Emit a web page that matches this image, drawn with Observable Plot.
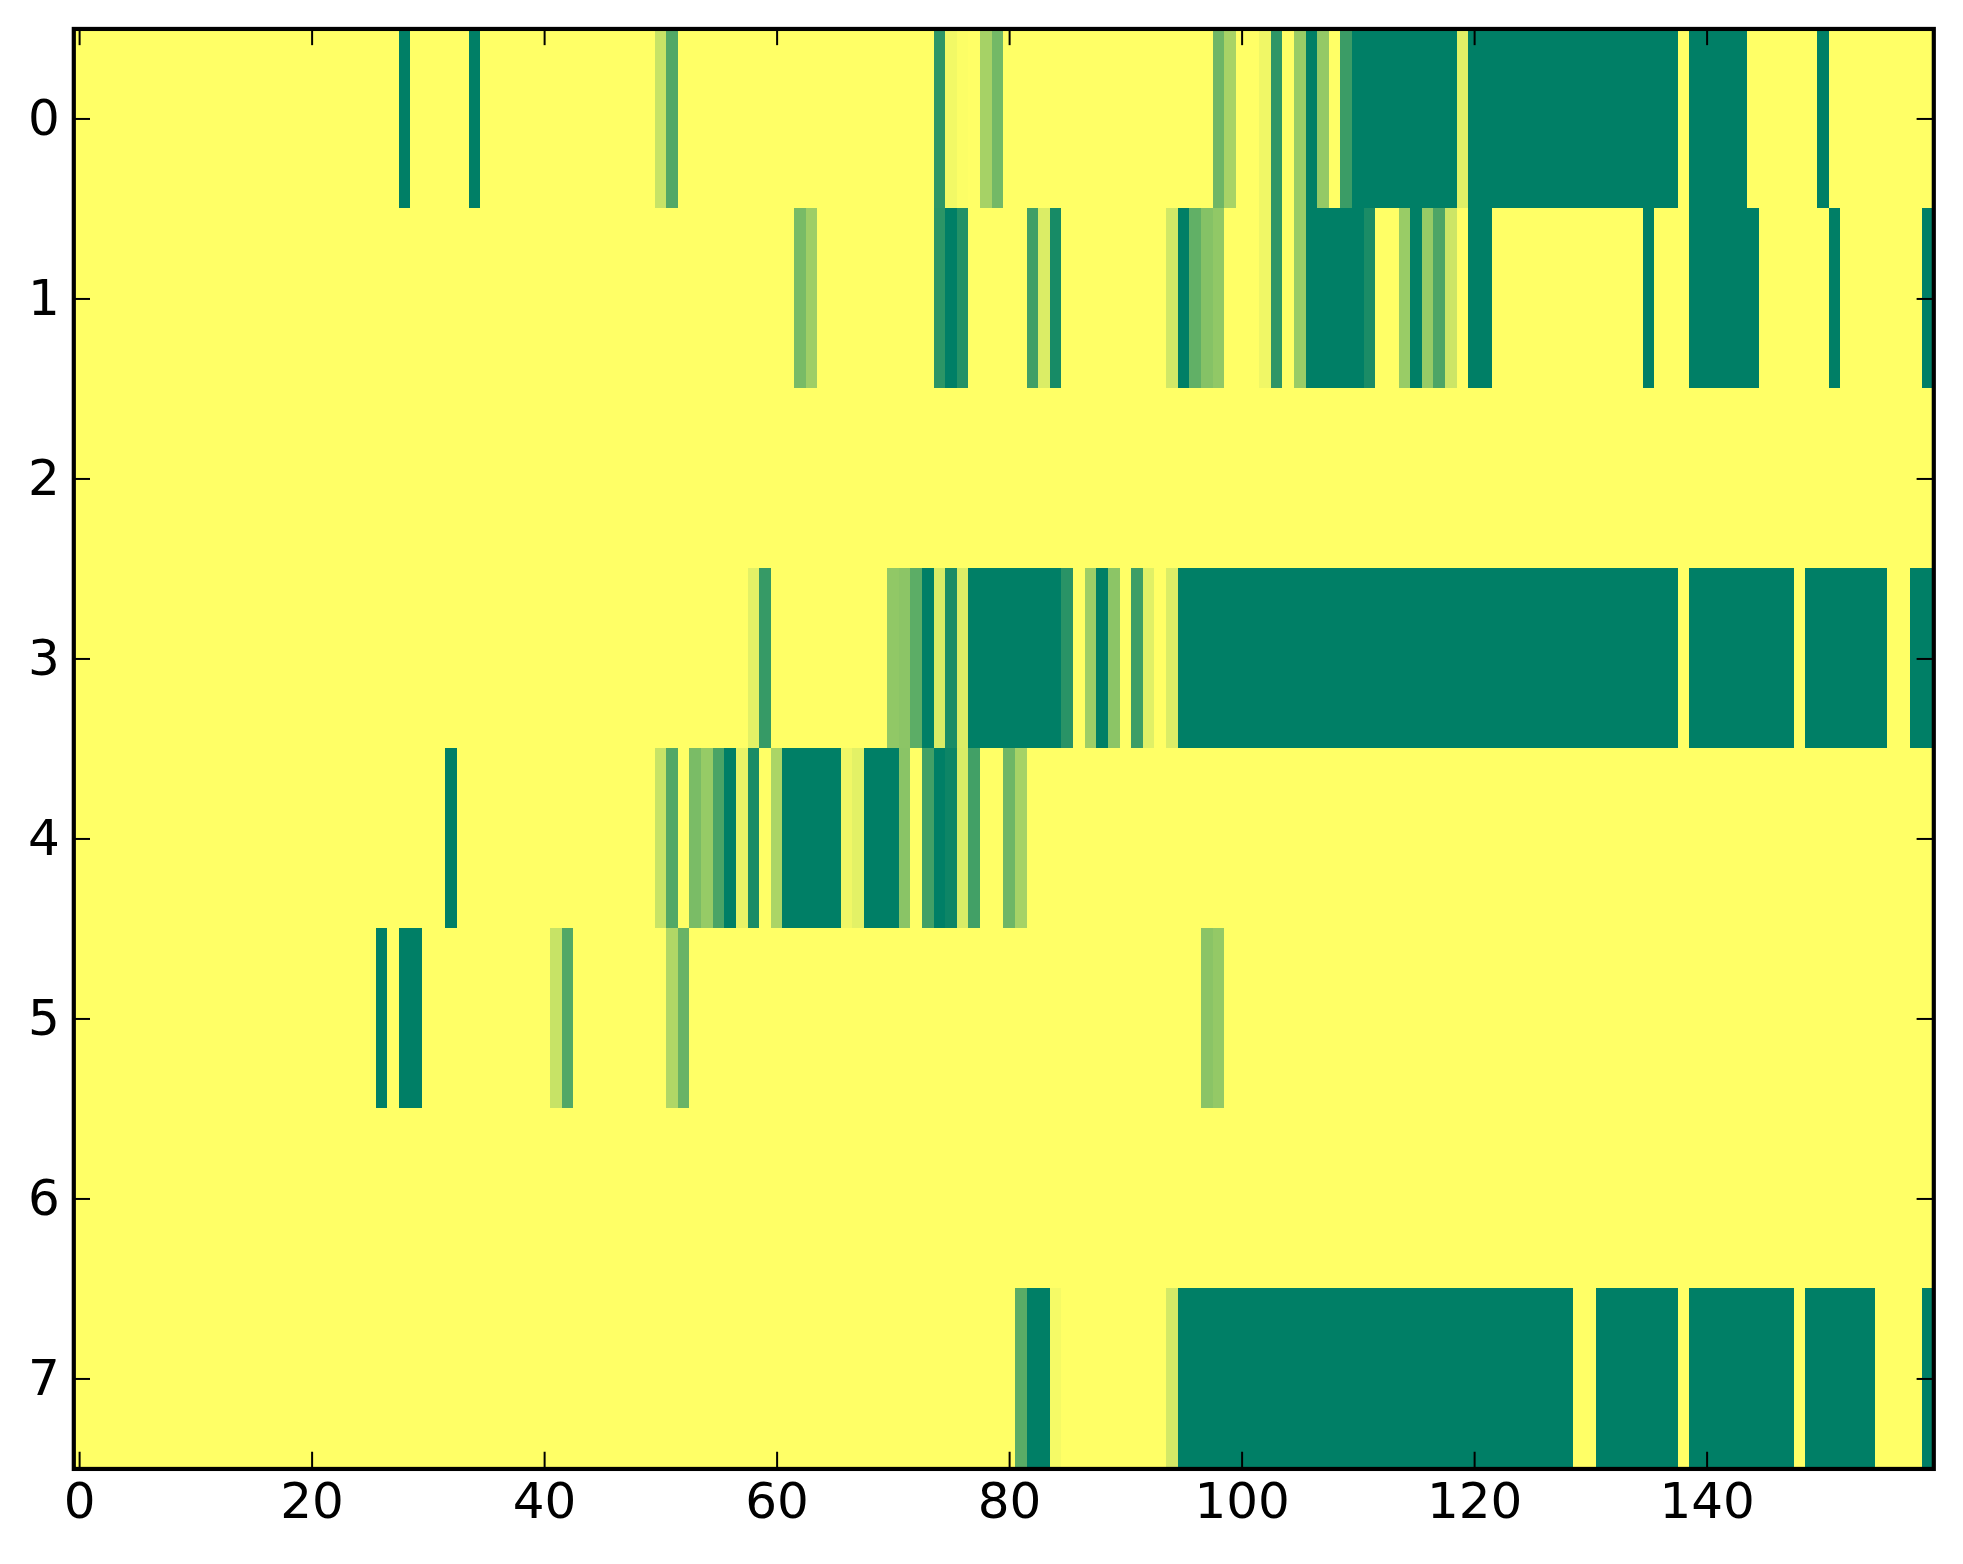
<!DOCTYPE html>
<html>
<head>
<meta charset="utf-8">
<script src="https://cdn.jsdelivr.net/npm/d3@7"></script>
<script src="https://cdn.jsdelivr.net/npm/@observablehq/plot@0.6"></script>
<style>
html,body{margin:0;padding:0;background:#fff}
svg{display:block;max-width:none}
</style>
</head>
<body>
<div id="chart"></div>
<script>
// Each row lists runs [firstColumn, lastColumn, value]; columns not listed are 1 (full yellow).
const row0 = [[28,28,0],[34,34,0],[50,50,.78],[51,51,.32],[74,74,.18],[75,75,.95],[76,76,.99],[78,78,.65],[79,79,.45],[98,98,.43],[99,99,.66],[102,102,.94],[103,103,.18],[105,105,.6],[106,106,0],[107,107,.58],[109,109,.23],[110,118,0],[119,119,.88],[120,137,0],[139,143,0],[150,150,0]];
const row1 = [[62,62,.47],[63,63,.62],[74,74,.17],[75,75,0],[76,76,.14],[82,82,.25],[83,83,.86],[84,84,.09],[94,94,.82],[95,95,0],[96,96,.38],[97,97,.52],[98,98,.57],[102,102,.94],[103,103,.18],[105,105,.6],[106,110,0],[111,111,.1],[114,114,.6],[115,115,0],[116,116,.59],[117,117,.3],[118,118,.8],[120,121,0],[135,135,0],[139,144,0],[151,151,0],[159,159,0]];
const row2 = [];
const row3 = [[58,58,.89],[59,59,.21],[70,70,.57],[71,71,.55],[72,72,.36],[73,73,0],[74,74,.85],[75,75,.1],[76,76,.86],[77,84,0],[85,85,.16],[87,87,.62],[88,88,0],[89,89,.55],[91,91,.24],[92,92,.88],[94,94,.86],[95,137,0],[139,147,0],[149,155,0],[158,159,0]];
const row4 = [[32,32,0],[50,50,.78],[51,51,.32],[53,53,.48],[54,54,.59],[55,55,.29],[56,56,0],[57,57,.91],[58,58,.1],[60,60,.67],[61,65,0],[66,66,.94],[67,67,.89],[68,70,0],[71,71,.54],[73,73,.26],[74,74,0],[75,75,.05],[76,76,.85],[77,77,.26],[80,80,.43],[81,81,.65]];
const row5 = [[26,26,0],[28,29,0],[41,41,.78],[42,42,.32],[51,51,.69],[52,52,.41],[97,97,.54],[98,98,.58]];
const row6 = [];
const row7 = [[81,81,.35],[82,83,0],[84,84,.96],[94,94,.83],[95,128,0],[131,137,0],[139,147,0],[149,154,0],[159,159,0]];
const rows = [row0,row1,row2,row3,row4,row5,row6,row7];
const columnCount = 160;
const xTicks = [0,20,40,60,80,100,120,140];
const yTicks = [0,1,2,3,4,5,6,7];

const cells = [];
rows.forEach((runs, r) => {
  const values = new Array(columnCount).fill(1);
  for (const [a, b, v] of runs) for (let c = a; c <= b; c++) values[c] = v;
  values.forEach((value, col) => cells.push({col, row: r, value}));
});

const W = 1963, H = 1564;
const mL = 73.3, mR = 29.7, mT = 28.45, mB = 95.55;
const tickLen = 16.7;
const uX = (W - mL - mR) / 160, uY = (H - mT - mB) / 8;
const tx = tickLen / uX, ty = tickLen / uY;

const chart = Plot.plot({
  width: W, height: H,
  marginLeft: mL, marginRight: mR, marginTop: mT, marginBottom: mB,
  style: {background: "#fff", fontFamily: "'DejaVu Sans', sans-serif"},
  x: {domain: [-0.5, 159.5], label: null},
  y: {domain: [7.5, -0.5], label: null},
  color: {type: "linear", domain: [0, 1], range: ["#007f66", "#ffff66"]},
  marks: [
    Plot.rect(cells, {
      x1: d => d.col - 0.5, x2: d => d.col + 0.5,
      y1: d => d.row - 0.5, y2: d => d.row + 0.5,
      fill: "value", shapeRendering: "crispEdges"
    }),
    Plot.ruleX(xTicks, {x: d => d, y1: 7.5, y2: 7.5 - ty, stroke: "#000", strokeWidth: 2}),
    Plot.ruleX(xTicks, {x: d => d, y1: -0.5, y2: -0.5 + ty, stroke: "#000", strokeWidth: 2}),
    Plot.ruleY(yTicks, {y: d => d, x1: -0.5, x2: -0.5 + tx, stroke: "#000", strokeWidth: 2}),
    Plot.ruleY(yTicks, {y: d => d, x1: 159.5, x2: 159.5 - tx, stroke: "#000", strokeWidth: 2}),
    Plot.frame({stroke: "#000", strokeWidth: 4.17}),
    Plot.axisX(xTicks, {anchor: "bottom", tickSize: 0, tickPadding: 14, fontSize: 50, label: null, fill: "#000", tickFormat: "d"}),
    Plot.axisY(yTicks, {anchor: "left", tickSize: 0, tickPadding: 14, fontSize: 50, label: null, fill: "#000", tickFormat: "d"})
  ]
});
document.getElementById("chart").append(chart);
</script>
</body>
</html>
